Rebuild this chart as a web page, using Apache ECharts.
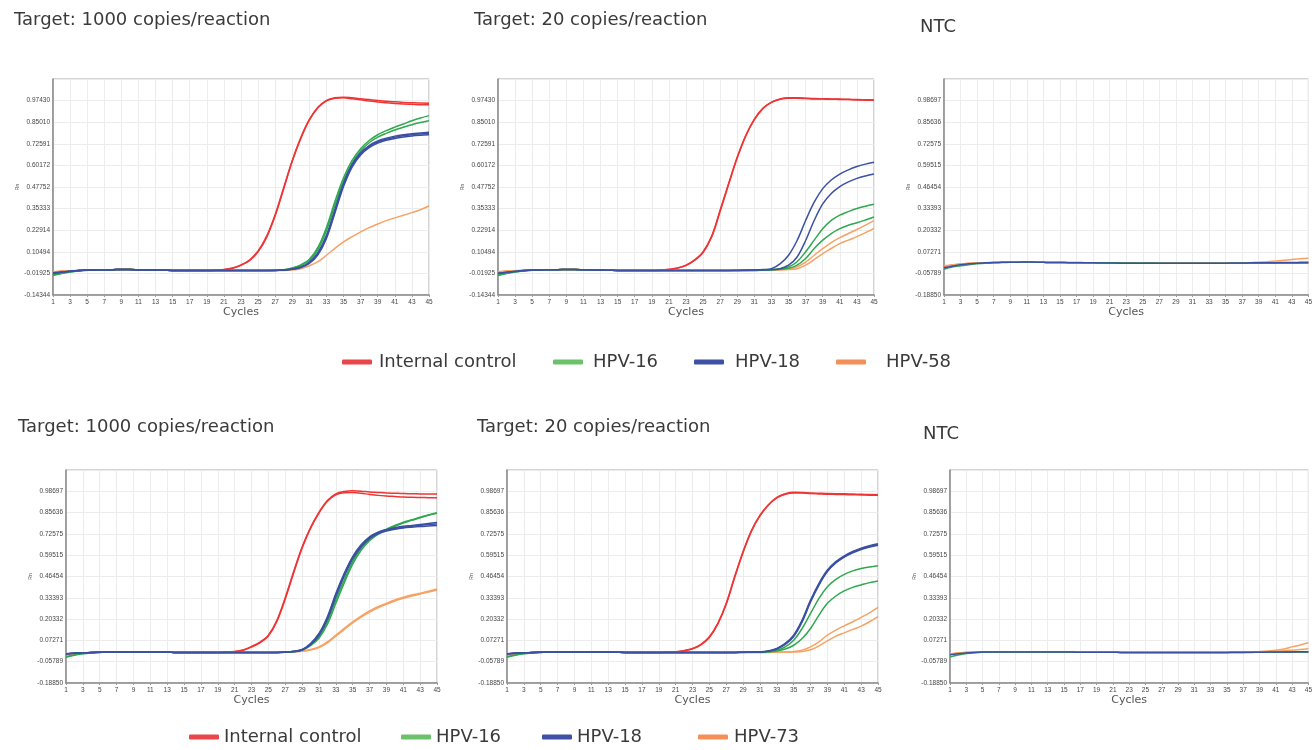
<!DOCTYPE html>
<html>
<head>
<meta charset="utf-8">
<title>HPV amplification curves</title>
<script src="https://cdn.jsdelivr.net/npm/echarts@6.0.0/dist/echarts.min.js"></script>
<style>
html, body { margin: 0; padding: 0; background: #fff; }
#main { width: 1315px; height: 750px; }
</style>
</head>
<body>
<div id="main"></div>
<script>
// cycles on the x axis
var cycles = [1,2,3,4,5,6,7,8,9,10,11,12,13,14,15,16,17,18,19,20,21,22,23,24,25,
              26,27,28,29,30,31,32,33,34,35,36,37,38,39,40,41,42,43,44,45];

// y tick labels (Rn)
var ticksTop = ['-0.14344','-0.01925','0.10494','0.22914','0.35333','0.47752','0.60172','0.72591','0.85010','0.97430'];
var ticksNtc = ['-0.18850','-0.05789','0.07271','0.20332','0.33393','0.46454','0.59515','0.72575','0.85636','0.98697'];

var titles = ['Target: 1000 copies/reaction', 'Target: 20 copies/reaction', 'NTC',
              'Target: 1000 copies/reaction', 'Target: 20 copies/reaction', 'NTC'];
var legendTop = ['Internal control', 'HPV-16', 'HPV-18', 'HPV-58'];
var legendBottom = ['Internal control', 'HPV-16', 'HPV-18', 'HPV-73'];

// ---- top row, 1000 copies ----
var t1000_ic_a = [-0.012,-0.008,-0.005,-0.002,0.000, 0.001,0.002,0.002,0.003,0.003, 0.002,0.001,0.000,-0.001,-0.002,
  -0.002,-0.002,-0.002,-0.002,-0.001, 0.003,0.012,0.030,0.058,0.110, 0.195,0.320,0.475,0.630,0.762,
  0.866,0.936,0.976,0.991,0.994, 0.990,0.985,0.980,0.975,0.971, 0.967,0.964,0.962,0.960,0.959];
var t1000_ic_b = [-0.014,-0.009,-0.006,-0.002,0.000, 0.001,0.002,0.002,0.003,0.003, 0.002,0.001,0.000,-0.001,-0.002,
  -0.002,-0.002,-0.002,-0.002,-0.001, 0.002,0.010,0.027,0.054,0.105, 0.188,0.312,0.468,0.625,0.757,
  0.862,0.933,0.973,0.988,0.990, 0.985,0.979,0.972,0.966,0.962, 0.958,0.955,0.953,0.951,0.950];
var t1000_h16_a = [-0.028,-0.018,-0.010,-0.005,-0.001, 0.001,0.002,0.002,0.003,0.003, 0.002,0.001,0.000,-0.001,-0.002,
  -0.002,-0.002,-0.002,-0.002,-0.002, -0.002,-0.002,-0.002,-0.002,-0.002, -0.002,-0.001,0.002,0.012,0.030,
  0.062,0.130,0.245,0.395,0.530, 0.630,0.698,0.745,0.778,0.802, 0.822,0.840,0.858,0.874,0.888];
var t1000_h16_b = [-0.032,-0.020,-0.011,-0.005,-0.001, 0.001,0.002,0.002,0.003,0.003, 0.002,0.001,0.000,-0.001,-0.002,
  -0.002,-0.002,-0.002,-0.002,-0.002, -0.002,-0.002,-0.002,-0.002,-0.002, -0.002,-0.001,0.001,0.010,0.026,
  0.055,0.118,0.228,0.375,0.512, 0.615,0.685,0.732,0.764,0.786, 0.805,0.821,0.836,0.848,0.858];
var t1000_h18_a = [-0.018,-0.012,-0.007,-0.003,0.000, 0.001,0.002,0.002,0.003,0.003, 0.002,0.001,0.000,-0.001,-0.002,
  -0.002,-0.002,-0.002,-0.002,-0.002, -0.002,-0.002,-0.002,-0.002,-0.002, -0.002,-0.002,0.000,0.006,0.018,
  0.045,0.100,0.200,0.350,0.498, 0.607,0.675,0.716,0.742,0.758, 0.770,0.778,0.784,0.788,0.792];
var t1000_h18_b = [-0.020,-0.013,-0.008,-0.003,0.000, 0.001,0.002,0.002,0.003,0.003, 0.002,0.001,0.000,-0.001,-0.002,
  -0.002,-0.002,-0.002,-0.002,-0.002, -0.002,-0.002,-0.002,-0.002,-0.002, -0.002,-0.002,0.000,0.004,0.014,
  0.038,0.088,0.182,0.330,0.480, 0.592,0.662,0.704,0.730,0.746, 0.757,0.765,0.771,0.775,0.778];
var t1000_h18_c = [-0.016,-0.011,-0.006,-0.002,0.000, 0.001,0.002,0.002,0.003,0.003, 0.002,0.001,0.000,-0.001,-0.002,
  -0.002,-0.002,-0.002,-0.002,-0.002, -0.002,-0.002,-0.002,-0.002,-0.002, -0.002,-0.002,0.000,0.005,0.016,
  0.042,0.094,0.192,0.340,0.490, 0.600,0.669,0.710,0.736,0.752, 0.764,0.772,0.778,0.782,0.785];
var t1000_h58 = [-0.010,-0.006,-0.004,-0.002,0.000, 0.001,0.002,0.002,0.003,0.003, 0.002,0.001,0.000,-0.001,-0.002,
  -0.002,-0.002,-0.002,-0.002,-0.002, -0.002,-0.002,-0.002,-0.002,-0.002, -0.002,-0.002,-0.002,0.000,0.008,
  0.025,0.048,0.085,0.125,0.162, 0.192,0.220,0.244,0.265,0.284, 0.300,0.315,0.330,0.347,0.368];

// ---- top row, 20 copies ----
var t20_ic_a = [-0.012,-0.008,-0.005,-0.002,0.000, 0.001,0.002,0.002,0.003,0.003, 0.002,0.001,0.000,-0.001,-0.002,
  -0.002,-0.002,-0.002,-0.002,-0.001, 0.004,0.012,0.028,0.058,0.105, 0.195,0.345,0.500,0.650,0.775,
  0.868,0.930,0.966,0.984,0.990, 0.990,0.988,0.986,0.985,0.984, 0.983,0.982,0.980,0.979,0.978];
var t20_ic_b = [-0.016,-0.010,-0.006,-0.002,0.000, 0.001,0.002,0.002,0.003,0.003, 0.002,0.001,0.000,-0.001,-0.002,
  -0.002,-0.002,-0.002,-0.002,-0.001, 0.003,0.011,0.026,0.055,0.101, 0.190,0.338,0.494,0.645,0.771,
  0.865,0.928,0.964,0.982,0.988, 0.988,0.986,0.984,0.983,0.982, 0.981,0.980,0.978,0.977,0.976];
var t20_h18_a = [-0.018,-0.012,-0.007,-0.003,0.000, 0.001,0.002,0.002,0.003,0.003, 0.002,0.001,0.000,-0.001,-0.002,
  -0.002,-0.002,-0.002,-0.002,-0.002, -0.002,-0.002,-0.002,-0.002,-0.002, -0.002,-0.002,-0.002,-0.001,0.000,
  0.001,0.003,0.008,0.035,0.085, 0.170,0.285,0.390,0.468,0.518, 0.552,0.576,0.595,0.609,0.620];
var t20_h18_b = [-0.020,-0.013,-0.008,-0.003,0.000, 0.001,0.002,0.002,0.003,0.003, 0.002,0.001,0.000,-0.001,-0.002,
  -0.002,-0.002,-0.002,-0.002,-0.002, -0.002,-0.002,-0.002,-0.002,-0.002, -0.002,-0.002,-0.002,-0.002,-0.001,
  0.000,0.001,0.003,0.008,0.028, 0.075,0.170,0.285,0.380,0.440, 0.480,0.507,0.527,0.541,0.552];
var t20_h16_a = [-0.028,-0.018,-0.010,-0.005,-0.001, 0.001,0.002,0.002,0.003,0.003, 0.002,0.001,0.000,-0.001,-0.002,
  -0.002,-0.002,-0.002,-0.002,-0.002, -0.002,-0.002,-0.002,-0.002,-0.002, -0.002,-0.002,-0.002,-0.002,-0.002,
  -0.001,0.000,0.002,0.007,0.018, 0.048,0.105,0.172,0.238,0.286, 0.316,0.336,0.354,0.367,0.378];
var t20_h16_b = [-0.032,-0.020,-0.011,-0.005,-0.001, 0.001,0.002,0.002,0.003,0.003, 0.002,0.001,0.000,-0.001,-0.002,
  -0.002,-0.002,-0.002,-0.002,-0.002, -0.002,-0.002,-0.002,-0.002,-0.002, -0.002,-0.002,-0.002,-0.002,-0.002,
  -0.002,-0.001,0.001,0.004,0.010, 0.028,0.066,0.124,0.172,0.210, 0.238,0.258,0.272,0.288,0.305];
var t20_h58_a = [-0.010,-0.006,-0.004,-0.002,0.000, 0.001,0.002,0.002,0.003,0.003, 0.002,0.001,0.000,-0.001,-0.002,
  -0.002,-0.002,-0.002,-0.002,-0.002, -0.002,-0.002,-0.002,-0.002,-0.002, -0.002,-0.002,-0.002,-0.002,-0.002,
  -0.002,-0.001,0.000,0.002,0.006, 0.018,0.045,0.085,0.123,0.158, 0.186,0.210,0.233,0.258,0.284];
var t20_h58_b = [-0.011,-0.007,-0.004,-0.002,0.000, 0.001,0.002,0.002,0.003,0.003, 0.002,0.001,0.000,-0.001,-0.002,
  -0.002,-0.002,-0.002,-0.002,-0.002, -0.002,-0.002,-0.002,-0.002,-0.002, -0.002,-0.002,-0.002,-0.002,-0.002,
  -0.002,-0.001,0.000,0.001,0.003, 0.008,0.028,0.060,0.095,0.124, 0.152,0.172,0.192,0.215,0.240];

// ---- top row, NTC ----
var tntc_ic = [-0.015,-0.008,-0.002,0.002,0.004, 0.006,0.008,0.009,0.010,0.010, 0.011,0.010,0.009,0.008,0.008,
  0.007,0.007,0.006,0.006,0.006, 0.005,0.005,0.004,0.004,0.004, 0.004,0.004,0.004,0.004,0.004,
  0.004,0.004,0.004,0.004,0.004, 0.004,0.004,0.005,0.005,0.005, 0.006,0.006,0.006,0.007,0.007];
var tntc_h16 = [-0.033,-0.020,-0.012,-0.005,0.000, 0.004,0.007,0.008,0.009,0.010, 0.011,0.010,0.009,0.008,0.008,
  0.008,0.008,0.007,0.007,0.007, 0.006,0.006,0.005,0.005,0.005, 0.005,0.004,0.004,0.004,0.004,
  0.004,0.004,0.004,0.004,0.004, 0.004,0.004,0.004,0.004,0.004, 0.004,0.004,0.004,0.004,0.004];
var tntc_h18 = [-0.025,-0.014,-0.006,0.000,0.003, 0.006,0.008,0.009,0.010,0.010, 0.011,0.010,0.009,0.008,0.008,
  0.007,0.007,0.006,0.006,0.005, 0.005,0.004,0.004,0.004,0.004, 0.004,0.004,0.004,0.004,0.004,
  0.004,0.004,0.004,0.004,0.004, 0.005,0.005,0.006,0.006,0.007, 0.007,0.008,0.008,0.009,0.010];
var tntc_h58 = [-0.012,-0.006,-0.001,0.003,0.005, 0.007,0.008,0.009,0.010,0.010, 0.010,0.010,0.009,0.008,0.008,
  0.007,0.007,0.006,0.006,0.005, 0.005,0.004,0.004,0.004,0.004, 0.004,0.004,0.004,0.004,0.004,
  0.004,0.004,0.004,0.004,0.005, 0.005,0.006,0.007,0.010,0.013, 0.017,0.021,0.026,0.030,0.034];

// ---- bottom row, 1000 copies ----
var b1000_ic_a = [-0.012,-0.007,-0.004,-0.002,0.000, 0.001,0.001,0.001,0.001,0.001, 0.001,0.001,0.001,-0.002,-0.001,
  -0.001,-0.001,-0.001,-0.001,0.000, 0.004,0.014,0.035,0.062,0.105, 0.195,0.335,0.495,0.645,0.765,
  0.858,0.930,0.971,0.986,0.990, 0.988,0.983,0.980,0.977,0.975, 0.973,0.972,0.971,0.970,0.970];
var b1000_ic_b = [-0.014,-0.008,-0.004,-0.002,0.000, 0.001,0.001,0.001,0.001,0.001, 0.001,0.001,0.001,-0.002,-0.001,
  -0.001,-0.001,-0.001,-0.001,0.000, 0.003,0.012,0.032,0.058,0.100, 0.188,0.326,0.486,0.638,0.760,
  0.854,0.926,0.966,0.978,0.980, 0.975,0.968,0.962,0.958,0.955, 0.952,0.950,0.949,0.948,0.947];
var b1000_h18_a = [-0.010,-0.006,-0.003,-0.001,0.000, 0.001,0.001,0.001,0.001,0.001, 0.001,0.001,0.001,-0.002,-0.001,
  -0.001,-0.001,-0.001,-0.001,-0.001, -0.001,-0.001,-0.001,-0.001,-0.001, -0.001,0.001,0.006,0.017,0.054,
  0.115,0.218,0.360,0.484,0.587, 0.659,0.708,0.736,0.752,0.763, 0.772,0.778,0.784,0.790,0.796];
var b1000_h18_b = [-0.011,-0.006,-0.003,-0.001,0.000, 0.001,0.001,0.001,0.001,0.001, 0.001,0.001,0.001,-0.002,-0.001,
  -0.001,-0.001,-0.001,-0.001,-0.001, -0.001,-0.001,-0.001,-0.001,-0.001, -0.001,0.000,0.004,0.014,0.046,
  0.104,0.202,0.340,0.466,0.572, 0.646,0.697,0.726,0.743,0.754, 0.762,0.767,0.771,0.774,0.777];
var b1000_h18_c = [-0.009,-0.005,-0.003,-0.001,0.000, 0.001,0.001,0.001,0.001,0.001, 0.001,0.001,0.001,-0.002,-0.001,
  -0.001,-0.001,-0.001,-0.001,-0.001, -0.001,-0.001,-0.001,-0.001,-0.001, -0.001,0.001,0.005,0.015,0.050,
  0.110,0.210,0.350,0.475,0.580, 0.652,0.703,0.731,0.748,0.759, 0.767,0.773,0.778,0.783,0.787];
var b1000_h16_a = [-0.030,-0.018,-0.009,-0.004,-0.001, 0.001,0.001,0.001,0.001,0.001, 0.001,0.001,0.001,-0.002,-0.001,
  -0.001,-0.001,-0.001,-0.001,-0.001, -0.001,-0.001,-0.001,-0.001,-0.001, -0.001,0.001,0.004,0.014,0.045,
  0.095,0.187,0.320,0.443,0.556, 0.638,0.694,0.731,0.755,0.777, 0.797,0.812,0.828,0.842,0.855];
var b1000_h16_b = [-0.026,-0.016,-0.008,-0.003,-0.001, 0.001,0.001,0.001,0.001,0.001, 0.001,0.001,0.001,-0.002,-0.001,
  -0.001,-0.001,-0.001,-0.001,-0.001, -0.001,-0.001,-0.001,-0.001,-0.001, -0.001,0.000,0.003,0.012,0.040,
  0.086,0.172,0.300,0.425,0.540, 0.625,0.684,0.723,0.750,0.773, 0.793,0.809,0.825,0.840,0.852];
var b1000_h73_a = [-0.012,-0.007,-0.004,-0.002,0.000, 0.001,0.001,0.001,0.001,0.001, 0.001,0.001,0.001,-0.002,-0.001,
  -0.001,-0.001,-0.001,-0.001,-0.001, -0.001,-0.001,-0.001,-0.001,-0.001, -0.001,0.000,0.003,0.008,0.017,
  0.033,0.064,0.105,0.146,0.187, 0.222,0.253,0.279,0.300,0.320, 0.337,0.351,0.362,0.374,0.388];
var b1000_h73_b = [-0.011,-0.007,-0.004,-0.002,0.000, 0.001,0.001,0.001,0.001,0.001, 0.001,0.001,0.001,-0.002,-0.001,
  -0.001,-0.001,-0.001,-0.001,-0.001, -0.001,-0.001,-0.001,-0.001,-0.001, -0.001,0.000,0.002,0.006,0.014,
  0.029,0.058,0.098,0.139,0.180, 0.215,0.246,0.272,0.294,0.314, 0.331,0.345,0.357,0.369,0.382];

// ---- bottom row, 20 copies ----
var b20_ic_a = [-0.012,-0.007,-0.004,-0.002,0.000, 0.001,0.001,0.001,0.001,0.001, 0.001,0.002,0.001,0.000,-0.001,
  -0.001,-0.001,-0.001,-0.001,0.000, 0.003,0.010,0.023,0.049,0.095, 0.177,0.300,0.464,0.618,0.748,
  0.840,0.905,0.950,0.972,0.981, 0.980,0.977,0.975,0.973,0.972, 0.972,0.970,0.969,0.967,0.966];
var b20_ic_b = [-0.014,-0.008,-0.004,-0.002,0.000, 0.001,0.001,0.001,0.001,0.001, 0.001,0.002,0.001,0.000,-0.001,
  -0.001,-0.001,-0.001,-0.001,0.000, 0.002,0.009,0.021,0.046,0.091, 0.172,0.294,0.458,0.612,0.743,
  0.836,0.901,0.946,0.968,0.977, 0.976,0.973,0.971,0.969,0.968, 0.967,0.966,0.965,0.963,0.962];
var b20_h18_a = [-0.010,-0.006,-0.003,-0.001,0.000, 0.001,0.001,0.001,0.001,0.001, 0.001,0.002,0.001,0.000,-0.001,
  -0.001,-0.001,-0.001,-0.001,-0.001, -0.001,-0.001,-0.001,-0.001,-0.001, -0.001,-0.001,-0.001,0.000,0.001,
  0.003,0.008,0.023,0.054,0.105, 0.197,0.320,0.423,0.505,0.556, 0.591,0.618,0.638,0.653,0.665];
var b20_h18_b = [-0.011,-0.006,-0.003,-0.001,0.000, 0.001,0.001,0.001,0.001,0.001, 0.001,0.002,0.001,0.000,-0.001,
  -0.001,-0.001,-0.001,-0.001,-0.001, -0.001,-0.001,-0.001,-0.001,-0.001, -0.001,-0.001,-0.001,0.000,0.001,
  0.002,0.006,0.020,0.048,0.097, 0.186,0.308,0.412,0.495,0.547, 0.583,0.610,0.630,0.645,0.656];
var b20_h18_c = [-0.009,-0.005,-0.003,-0.001,0.000, 0.001,0.001,0.001,0.001,0.001, 0.001,0.002,0.001,0.000,-0.001,
  -0.001,-0.001,-0.001,-0.001,-0.001, -0.001,-0.001,-0.001,-0.001,-0.001, -0.001,-0.001,-0.001,0.000,0.001,
  0.002,0.007,0.021,0.051,0.101, 0.191,0.314,0.418,0.500,0.551, 0.587,0.614,0.634,0.649,0.660];
var b20_h16_a = [-0.030,-0.018,-0.009,-0.004,-0.001, 0.001,0.001,0.001,0.001,0.001, 0.001,0.002,0.001,0.000,-0.001,
  -0.001,-0.001,-0.001,-0.001,-0.001, -0.001,-0.001,-0.001,-0.001,-0.001, -0.001,-0.001,-0.001,0.000,0.000,
  0.001,0.004,0.012,0.033,0.074, 0.146,0.238,0.331,0.402,0.447, 0.478,0.499,0.513,0.523,0.531];
var b20_h16_b = [-0.026,-0.016,-0.008,-0.003,-0.001, 0.001,0.001,0.001,0.001,0.001, 0.001,0.002,0.001,0.000,-0.001,
  -0.001,-0.001,-0.001,-0.001,-0.001, -0.001,-0.001,-0.001,-0.001,-0.001, -0.001,-0.001,-0.001,-0.001,0.000,
  0.000,0.002,0.008,0.020,0.043, 0.084,0.146,0.228,0.300,0.345, 0.376,0.398,0.413,0.427,0.437];
var b20_h73_a = [-0.012,-0.007,-0.004,-0.002,0.000, 0.001,0.001,0.001,0.001,0.001, 0.001,0.002,0.001,0.000,-0.001,
  -0.001,-0.001,-0.001,-0.001,-0.001, -0.001,-0.001,-0.001,-0.001,-0.001, -0.001,-0.001,-0.001,-0.001,-0.001,
  -0.001,0.000,0.001,0.002,0.004, 0.013,0.033,0.064,0.105,0.136, 0.162,0.187,0.214,0.242,0.275];
var b20_h73_b = [-0.011,-0.007,-0.004,-0.002,0.000, 0.001,0.001,0.001,0.001,0.001, 0.001,0.002,0.001,0.000,-0.001,
  -0.001,-0.001,-0.001,-0.001,-0.001, -0.001,-0.001,-0.001,-0.001,-0.001, -0.001,-0.001,-0.001,-0.001,-0.001,
  -0.001,-0.001,0.000,0.001,0.002, 0.004,0.015,0.039,0.070,0.099, 0.119,0.140,0.160,0.187,0.218];

// ---- bottom row, NTC ----
var bntc_ic = [-0.012,-0.006,-0.002,0.000,0.001, 0.002,0.002,0.002,0.002,0.002, 0.002,0.002,0.002,0.001,0.001,
  0.001,0.000,0.000,0.000,0.000, 0.000,-0.001,-0.001,-0.001,-0.001, -0.001,-0.001,-0.001,-0.001,-0.001,
  -0.001,-0.001,-0.001,-0.001,-0.001, -0.001,-0.001,0.000,0.000,0.000, 0.000,0.001,0.001,0.001,0.001];
var bntc_h16 = [-0.030,-0.017,-0.008,-0.003,0.000, 0.001,0.002,0.002,0.002,0.002, 0.002,0.002,0.002,0.001,0.001,
  0.001,0.000,0.000,0.000,0.000, 0.000,-0.001,-0.001,-0.001,-0.001, -0.001,-0.001,-0.001,-0.001,-0.001,
  -0.001,-0.001,-0.001,-0.001,-0.001, -0.001,-0.001,-0.001,0.000,0.000, 0.000,0.000,0.001,0.001,0.001];
var bntc_h18 = [-0.015,-0.009,-0.004,-0.001,0.001, 0.002,0.002,0.002,0.002,0.002, 0.002,0.002,0.002,0.001,0.001,
  0.001,0.000,0.000,0.000,0.000, 0.000,-0.001,-0.001,-0.001,-0.001, -0.001,-0.001,-0.001,-0.001,-0.001,
  -0.001,-0.001,-0.001,-0.001,-0.001, 0.000,0.000,0.000,0.000,0.001, 0.001,0.002,0.002,0.003,0.003];
var bntc_h73_a = [-0.010,-0.005,-0.002,0.000,0.001, 0.002,0.002,0.002,0.002,0.002, 0.002,0.002,0.002,0.001,0.001,
  0.001,0.000,0.000,0.000,0.000, 0.000,-0.001,-0.001,-0.001,-0.001, -0.001,-0.001,-0.001,-0.001,-0.001,
  -0.001,-0.001,-0.001,-0.001,-0.001, 0.000,0.000,0.001,0.004,0.008, 0.013,0.020,0.033,0.045,0.058];
var bntc_h73_b = [-0.011,-0.006,-0.002,0.000,0.001, 0.002,0.002,0.002,0.002,0.002, 0.002,0.002,0.002,0.001,0.001,
  0.001,0.000,0.000,0.000,0.000, 0.000,-0.001,-0.001,-0.001,-0.001, -0.001,-0.001,-0.001,-0.001,-0.001,
  -0.001,-0.001,-0.001,-0.001,-0.001, 0.000,0.000,0.000,0.001,0.003, 0.006,0.009,0.013,0.017,0.022];

// which curves go in which panel
var panelCurves = [
  [['Internal control', t1000_ic_a], ['Internal control', t1000_ic_b], ['HPV-58', t1000_h58],
   ['HPV-16', t1000_h16_a], ['HPV-16', t1000_h16_b],
   ['HPV-18', t1000_h18_a], ['HPV-18', t1000_h18_b], ['HPV-18', t1000_h18_c]],
  [['Internal control', t20_ic_a], ['Internal control', t20_ic_b], ['HPV-58', t20_h58_a], ['HPV-58', t20_h58_b],
   ['HPV-16', t20_h16_a], ['HPV-16', t20_h16_b], ['HPV-18', t20_h18_a], ['HPV-18', t20_h18_b]],
  [['Internal control', tntc_ic], ['HPV-58', tntc_h58], ['HPV-16', tntc_h16], ['HPV-18', tntc_h18]],
  [['Internal control', b1000_ic_a], ['Internal control', b1000_ic_b], ['HPV-73', b1000_h73_a], ['HPV-73', b1000_h73_b],
   ['HPV-16', b1000_h16_a], ['HPV-16', b1000_h16_b],
   ['HPV-18', b1000_h18_a], ['HPV-18', b1000_h18_b], ['HPV-18', b1000_h18_c]],
  [['Internal control', b20_ic_a], ['Internal control', b20_ic_b], ['HPV-73', b20_h73_a], ['HPV-73', b20_h73_b],
   ['HPV-16', b20_h16_a], ['HPV-16', b20_h16_b],
   ['HPV-18', b20_h18_a], ['HPV-18', b20_h18_b], ['HPV-18', b20_h18_c]],
  [['Internal control', bntc_ic], ['HPV-73', bntc_h73_a], ['HPV-73', bntc_h73_b], ['HPV-16', bntc_h16], ['HPV-18', bntc_h18]]
];
var panelTicks = [ticksTop, ticksTop, ticksNtc, ticksNtc, ticksNtc, ticksNtc];

// layout
var boxes = [
  [53, 79, 376, 216], [498, 79, 376, 216], [944, 79, 376, 216],
  [66, 470, 371, 213], [507, 470, 371, 213], [950, 470, 371, 213]
];
var titlePos = [[14, 11], [474, 11], [920, 18], [18, 418], [477, 418], [923, 425]];
// legend items: [icon left, extra gap before text], one row per legend
var legendTopPos = [[342, 2], [553, 5], [694, 6], [836, 15]];
var legendBottomPos = [[189, 0], [401, 0], [542, 0], [698, 1]];

var lineColors = {
  'Internal control': '#ee3535',
  'HPV-16': '#2fa84f',
  'HPV-18': '#3b50a3',
  'HPV-58': '#f7a265',
  'HPV-73': '#f7a265'
};
var iconColors = {
  'Internal control': '#ea4548',
  'HPV-16': '#6cc16b',
  'HPV-18': '#3f51a6',
  'HPV-58': '#f48f58',
  'HPV-73': '#f48f58'
};

var myChart = echarts.init(document.getElementById('main'));

var grids = [], xAxes = [], yAxes = [], series = [], titleList = [], legends = [];
var labelFont = 'Liberation Sans';

boxes.forEach(function (b, i) {
  grids.push({
    left: b[0], top: b[1], width: b[2], height: b[3],
    show: true, borderColor: '#a8a8a8', borderWidth: 1, backgroundColor: '#fff'
  });

  xAxes.push({
    type: 'value', gridIndex: i, min: 1, max: 45, interval: 2,
    name: 'Cycles', nameLocation: 'middle', nameGap: 10,
    nameTextStyle: { fontSize: 11, color: '#555', fontFamily: 'DejaVu Sans' },
    axisLine: { onZero: false, lineStyle: { color: '#8a8a8a', width: 1.5 } },
    axisTick: { show: true, length: 2, lineStyle: { color: '#999' } },
    axisLabel: { fontSize: 6.5, color: '#444', margin: 4, fontFamily: labelFont },
    splitLine: { show: true, lineStyle: { color: '#ececec', width: 1 } }
  });

  var labels = panelTicks[i];
  var lo = parseFloat(labels[0]);
  var step = (parseFloat(labels[labels.length - 1]) - lo) / (labels.length - 1);
  yAxes.push({
    type: 'value', gridIndex: i, min: lo, max: lo + step * labels.length, interval: step,
    name: 'Rn', nameLocation: 'middle', nameGap: 32, nameRotate: 90,
    nameTextStyle: { fontSize: 5, color: '#555' },
    axisLine: { show: true, onZero: false, lineStyle: { color: '#8a8a8a', width: 1.5 } },
    axisTick: { show: false },
    axisLabel: {
      fontSize: 6.5, color: '#444', margin: 3, fontFamily: labelFont,
      formatter: function (v) {
        var k = Math.round((v - lo) / step);
        return k < labels.length ? labels[k] : '';
      }
    },
    splitLine: { show: true, lineStyle: { color: '#ececec', width: 1 } }
  });

  titleList.push({
    text: titles[i], left: titlePos[i][0], top: titlePos[i][1], padding: 0,
    textStyle: { fontSize: 18, fontWeight: 'normal', color: '#3a3a3a', fontFamily: 'DejaVu Sans' }
  });

  panelCurves[i].forEach(function (c) {
    var vals = c[1];
    series.push({
      type: 'line', name: c[0], xAxisIndex: i, yAxisIndex: i,
      data: cycles.map(function (x, k) { return [x, vals[k]]; }),
      showSymbol: false, smooth: 0.35, silent: true,
      lineStyle: { width: 1.5, color: lineColors[c[0]] },
      itemStyle: { color: lineColors[c[0]] }
    });
  });
});

// one legend component per item so each sits where the reference has it
function addLegend(names, pos, top) {
  names.forEach(function (n, k) {
    legends.push({
      data: [{ name: n, itemStyle: { color: iconColors[n] } }],
      left: pos[k][0], top: top, padding: 0,
      itemWidth: 30, itemHeight: 5, icon: 'roundRect', selectedMode: false,
      textStyle: { fontSize: 18, color: '#3a3a3a', fontFamily: 'DejaVu Sans', padding: [0, 0, 0, pos[k][1]] }
    });
  });
}
addLegend(legendTop, legendTopPos, 353);
addLegend(legendBottom, legendBottomPos, 728);

myChart.setOption({
  animation: false,
  title: titleList,
  legend: legends,
  grid: grids,
  xAxis: xAxes,
  yAxis: yAxes,
  series: series
});
</script>
</body>
</html>
